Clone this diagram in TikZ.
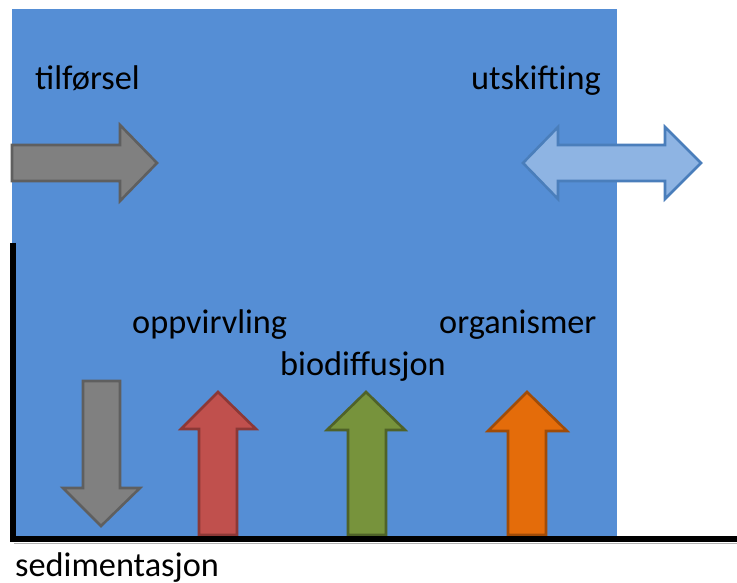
\documentclass[tikz,border=0pt]{standalone}
\usepackage{fontspec}
\setmainfont{Carlito}
\definecolor{water}{HTML}{558ED5}
\definecolor{grayfill}{HTML}{808080}
\definecolor{graystroke}{HTML}{5F5F5F}
\definecolor{redfill}{HTML}{C0504D}
\definecolor{redstroke}{HTML}{8C3836}
\definecolor{greenfill}{HTML}{77933C}
\definecolor{greenstroke}{HTML}{4F6228}
\definecolor{orangefill}{HTML}{E46C0A}
\definecolor{orangestroke}{HTML}{A04C08}
\definecolor{lightfill}{HTML}{8EB4E3}
\definecolor{lightstroke}{HTML}{4A7EBB}
\tikzset{
  lbl/.style={anchor=base west, inner sep=0pt, font=\fontsize{34.3}{38}\selectfont, text=black},
  arr/.style={line width=2.6pt, line join=miter},
}
\begin{document}
\begin{tikzpicture}[x=1pt, y=-1pt]
\useasboundingbox (0,0) rectangle (737,583);
% water body
\fill[water] (12,9) rectangle (617,536);
% arrows
\draw[arr, fill=grayfill, draw=graystroke] (12,145) -- (120,145) -- (120,125) -- (157,163) -- (120,201) -- (120,181) -- (12,181) -- cycle;
\draw[arr, fill=lightfill, draw=lightstroke] (523,163) -- (558,127) -- (558,145) -- (665,145) -- (665,127) -- (701,163) -- (665,199) -- (665,181) -- (558,181) -- (558,199) -- cycle;
\draw[arr, fill=grayfill, draw=graystroke] (83,381) -- (120,381) -- (120,488) -- (140,488) -- (101,526) -- (63,488) -- (83,488) -- cycle;
\draw[arr, fill=redfill, draw=redstroke] (218,392) -- (256,429) -- (237,429) -- (237,535) -- (199,535) -- (199,429) -- (181,429) -- cycle;
\draw[arr, fill=greenfill, draw=greenstroke] (366,392) -- (405,430) -- (386,430) -- (386,535) -- (348,535) -- (348,430) -- (327,430) -- cycle;
\draw[arr, fill=orangefill, draw=orangestroke] (527,392) -- (567,431) -- (546,431) -- (546,535) -- (508,535) -- (508,431) -- (488,431) -- cycle;
% bottom / side boundary
\draw[gray!60, line width=1pt] (14,543) -- (737,543);
\draw[line width=5.5pt, line join=miter] (13,243) -- (13,539) -- (737,539);
% labels
\node[lbl] (tilforsel) at (35,90) {tilførsel};
\node[lbl] (utskifting) at (471,90) {utskifting};
\node[lbl] (oppvirvling) at (132,333) {oppvirvling};
\node[lbl] (organismer) at (439,333) {organismer};
\node[lbl] (biodiffusjon) at (280,375) {biodiffusjon};
\node[lbl] (sedimentasjon) at (15,576) {sedimentasjon};
\end{tikzpicture}
\end{document}
